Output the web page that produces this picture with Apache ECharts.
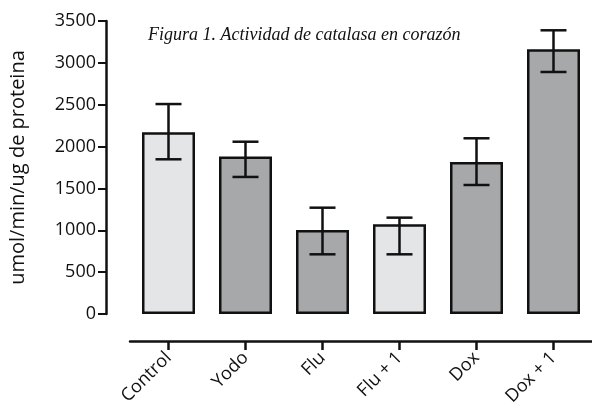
<!DOCTYPE html>
<html><head><meta charset="utf-8">
<script src="https://cdn.jsdelivr.net/npm/echarts@6/dist/echarts.min.js"></script>
<style>html,body{margin:0;padding:0;background:#fff}#c{width:592px;height:416px}</style>
</head><body><div id="c"></div>
<script>
const categories = ['Control', 'Yodo', 'Flu', 'Flu + 1', 'Dox', 'Dox + 1'];
const means = [2170, 1880, 1003, 1071, 1816, 3162];
const errLow = [1848, 1637, 713, 713, 1541, 2891];
const errHigh = [2508, 2058, 1270, 1151, 2099, 3389];
const barColors = ['#e4e5e7', '#a7a8aa', '#a7a8aa', '#e4e5e7', '#a7a8aa', '#a7a8aa'];
const yTicks = [0, 500, 1000, 1500, 2000, 2500, 3000, 3500];

const chart = echarts.init(document.getElementById('c'), null, {renderer: 'canvas'});
const sans = 'Open Sans';
chart.setOption({
  animation: false,
  title: {
    text: 'Figura 1. Actividad de catalasa en corazón',
    left: 143, top: 21,
    textStyle: {fontFamily: 'Liberation Serif', fontStyle: 'italic', fontWeight: 'normal', fontSize: 18, color: '#111'}
  },
  grid: {left: 126, right: 0, top: 21, bottom: 102, containLabel: false},
  xAxis: {
    type: 'category', data: categories, offset: 27,
    axisLine: {onZero: false, lineStyle: {color: '#111', width: 2.5}},
    axisTick: {show: true, interval: 0, alignWithLabel: true, length: 9, lineStyle: {color: '#111', width: 2.5}},
    axisLabel: {rotate: 45, fontFamily: sans, fontSize: 18, color: '#111', margin: 14, interval: 0}
  },
  yAxis: {
    type: 'value', min: 0, max: 3500, interval: 500, offset: 24,
    name: 'umol/min/ug de proteina', nameLocation: 'middle', nameGap: 78, nameRotate: 90,
    nameTextStyle: {fontFamily: sans, fontSize: 20, color: '#111'},
    axisLine: {show: true, lineStyle: {color: '#111', width: 2.5}},
    axisTick: {show: true, length: 8, lineStyle: {color: '#111', width: 2}},
    splitLine: {show: false},
    axisLabel: {fontFamily: sans, fontSize: 18, color: '#111', margin: 10,
      formatter: v => yTicks.includes(v) ? String(v) : ''}
  },
  series: [
    {
      type: 'bar', barWidth: 53,
      data: means.map((v, i) => ({value: v, itemStyle: {color: barColors[i]}})),
      itemStyle: {borderColor: '#111', borderWidth: 2.5}
    },
    {
      type: 'custom',
      data: categories.map((c, i) => [i, errLow[i], errHigh[i]]),
      renderItem: function (params, api) {
        const lo = api.coord([api.value(0), api.value(1)]);
        const hi = api.coord([api.value(0), api.value(2)]);
        const hw = 13;
        const st = {stroke: '#111', lineWidth: 2.5};
        return {type: 'group', children: [
          {type: 'line', shape: {x1: hi[0], y1: hi[1], x2: lo[0], y2: lo[1]}, style: st},
          {type: 'line', shape: {x1: hi[0] - hw, y1: hi[1], x2: hi[0] + hw, y2: hi[1]}, style: st},
          {type: 'line', shape: {x1: lo[0] - hw, y1: lo[1], x2: lo[0] + hw, y2: lo[1]}, style: st}
        ]};
      },
      z: 10
    }
  ]
});
</script></body></html>
